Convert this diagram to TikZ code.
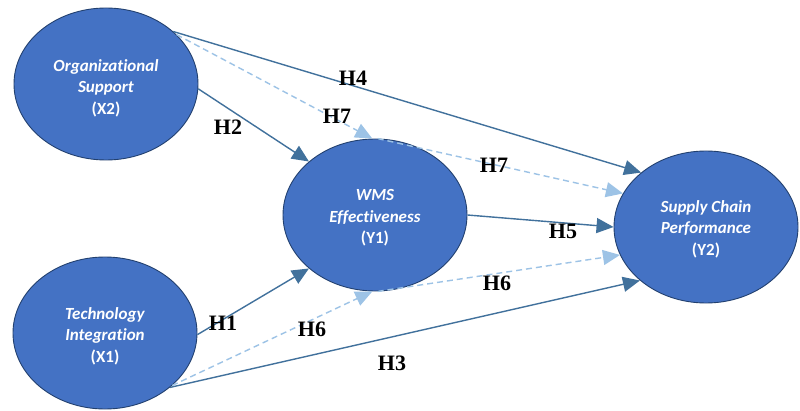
\documentclass[tikz,border=0pt]{standalone}
\usepackage{fontspec}
\setmainfont{Liberation Serif}
\newfontfamily\carlito[Ligatures=NoCommon,BoldFont={Carlito Bold},BoldItalicFont={Carlito Bold Italic}]{Carlito}
\usetikzlibrary{shapes.geometric,arrows.meta}
\definecolor{efill}{HTML}{4472C4}
\definecolor{edraw}{HTML}{22406F}
\definecolor{solidc}{HTML}{41719C}
\definecolor{dashc}{HTML}{9DC3E6}
\begin{document}
\begin{tikzpicture}[x=1pt,y=1pt,
  construct/.style={ellipse, fill=efill, draw=edraw, line width=0.9pt,
    minimum width=184pt, minimum height=152pt, inner sep=0pt},
  ctext/.style={text=white, align=center, inner sep=0pt,
    font=\carlito\bfseries\fontsize{17}{21.5}\selectfont},
  solidarrow/.style={draw=solidc, line width=1.4pt, -{Triangle[length=17pt,width=15pt]}},
  dasharrow/.style={draw=dashc, line width=1.4pt, dash pattern=on 6pt off 4pt,
    -{Triangle[length=17pt,width=15pt]}},
  hlabel/.style={font=\bfseries\fontsize{22}{22}\selectfont, text=black, inner sep=1pt}
]
\useasboundingbox (0,0) rectangle (800,410);
\fill[white] (0,0) rectangle (800,410);

\node[construct] (x2) at (106,326) {};
\node[construct] (x1) at (105,77) {};
\node[construct] (y1) at (375,195) {};
\node[construct] (y2) at (706,183) {};

\node[ctext] (x2t) at ([yshift=-4pt]x2.center) {\textit{Organizational}\\\textit{Support}\\(X2)};
\node[ctext] (x1t) at ([yshift=-3pt]x1.center) {\textit{Technology}\\\textit{Integration}\\(X1)};
\node[ctext] (y1t) at ([yshift=-3pt]y1.center) {\textit{WMS}\\\textit{Effectiveness}\\(Y1)};
\node[ctext] (y2t) at ([yshift=-2pt]y2.center) {\textit{Supply Chain}\\\textit{Performance}\\(Y2)};

% solid paths
\draw[solidarrow] (x2.38) -- (y2.140);
\draw[solidarrow] (x2.-3) -- (y1.141);
\draw[solidarrow] (y1.0) -- (y2.180);
\draw[solidarrow] (x1.-1) -- (y1.219);
\draw[solidarrow] (x1.-40) -- (y2.219);

% dashed mediation paths
\draw[dasharrow] (x2.35) -- (y1.92);
\draw[dasharrow] (y1.88) -- (y2.158);
\draw[dasharrow] (x1.-38) -- (y1.268);
\draw[dasharrow] (y1.272) -- (y2.198);

% labels
\node[hlabel] (h4) at (353,332) {H4};
\node[hlabel] (h7a) at (337,294) {H7};
\node[hlabel] (h2) at (228,283) {H2};
\node[hlabel] (h7b) at (494,245) {H7};
\node[hlabel] (h5) at (563,179) {H5};
\node[hlabel] (h6b) at (497,127) {H6};
\node[hlabel] (h1) at (223,87) {H1};
\node[hlabel] (h6a) at (312,81) {H6};
\node[hlabel] (h3) at (392,47) {H3};
\end{tikzpicture}
\end{document}
